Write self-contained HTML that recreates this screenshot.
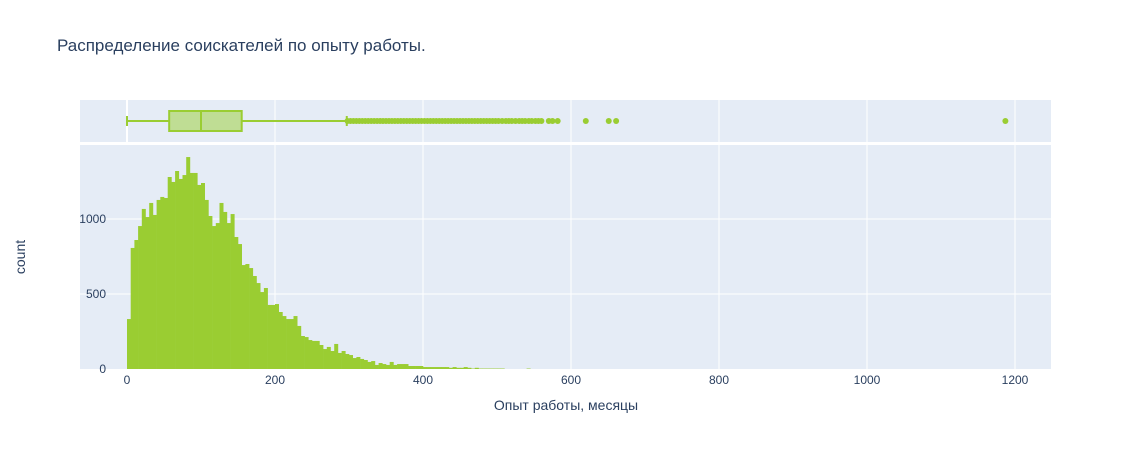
<!DOCTYPE html>
<html><head><meta charset="utf-8">
<style>
html,body{margin:0;padding:0;background:#fff;}
svg text{font-family:"Liberation Sans","DejaVu Sans",sans-serif;fill:#2a3f5f;}
</style></head>
<body>
<svg id="chart" width="1132" height="450" xmlns="http://www.w3.org/2000/svg">
<rect width="1132" height="450" fill="#fff"/>
<text x="57" y="51" font-size="17">Распределение соискателей по опыту работы.</text>
<rect x="80" y="100" width="971" height="42" fill="#e5ecf6"/>
<rect x="80" y="145" width="971" height="224" fill="#e5ecf6"/>
<g id="grid"></g>
<g id="bars"></g>
<g id="box"></g>
<g id="ticks"></g>
<text transform="translate(25,257) rotate(-90)" text-anchor="middle" font-size="14">count</text>
<text x="566" y="410" text-anchor="middle" font-size="14">Опыт работы, месяцы</text>
</svg>
<script>
const binWidth = 5;
const counts = [333,807,860,953,1067,1013,1107,1027,1127,1147,1140,1280,1247,1320,1267,1293,1413,1307,1307,1227,1240,1127,1020,953,973,1107,1047,973,1033,880,833,693,700,673,620,573,513,540,427,427,433,380,353,333,333,353,287,220,213,193,187,187,160,133,147,120,167,107,120,100,93,73,80,67,60,47,53,27,40,33,27,47,27,33,33,33,20,20,20,20,13,13,13,13,13,13,13,8,13,8,8,13,8,3,8,3,3,3,3,3,3,3,0,0,0,0,0,0,3];
const boxStats = [0,57,100,155,297];
const outliers = [298,302,306,310,314,318,322,326,330,334,338,342,346,350,354,358,362,366,370,374,378,382,386,390,394,398,402,406,410,414,418,422,426,430,434,438,442,446,450,454,458,462,466,470,474,478,482,486,490,494,498,502,507,512,516,520,525,530,534,538,543,547,552,556,560,570,575,582,620,651,661,1187];
const xTicks = [0,200,400,600,800,1000,1200];
const yTicks = [0,500,1000];

const NS="http://www.w3.org/2000/svg";
const xs = v => 127 + v*0.74;
const ys = c => 369 - c*0.15;
function mk(tag, attrs, parent){const e=document.createElementNS(NS,tag);for(const k in attrs)e.setAttribute(k,attrs[k]);parent.appendChild(e);return e;}
const grid=document.getElementById('grid'), bars=document.getElementById('bars'), box=document.getElementById('box'), ticks=document.getElementById('ticks');

xTicks.forEach(t=>{
  const x=xs(t);
  if(t!==0){
    const g1=mk('line',{x1:x,x2:x,y1:100,y2:142,stroke:'#fff','stroke-width':1},grid);
    
    
    const g2=mk('line',{x1:x,x2:x,y1:145,y2:369,stroke:'#fff','stroke-width':1},grid);
    
    
  } else {
    const z=mk('line',{x1:x,x2:x,y1:100,y2:142,stroke:'#fff','stroke-width':2},grid);
    
    
  }
  const lb=mk('text',{x:x,y:384,'text-anchor':'middle','font-size':12},ticks);
  lb.textContent=t;
  
  
});
yTicks.forEach(t=>{
  const y=ys(t);
  if(t!==0){
    const g=mk('line',{x1:80,x2:1051,y1:y,y2:y,stroke:'#fff','stroke-width':1},grid);
    
    
  }
  const lb=mk('text',{x:106,y:y+4,'text-anchor':'end','font-size':12},ticks);
  lb.textContent=t;
  
  
});

counts.forEach((c,i)=>{
  if(c<=0) return;
  const x0=xs(i*binWidth), x1=xs((i+1)*binWidth);
  const r=mk('rect',{x:x0,y:ys(c),width:x1-x0+0.3,height:369-ys(c),fill:'#9acd32'},bars);
  
  
});

const cy=121;
const wl=mk('line',{x1:xs(boxStats[0]),x2:xs(boxStats[1]),y1:cy,y2:cy,stroke:'#9acd32','stroke-width':2},box);


const wu=mk('line',{x1:xs(boxStats[3]),x2:xs(boxStats[4]),y1:cy,y2:cy,stroke:'#9acd32','stroke-width':2},box);


[boxStats[0],boxStats[4]].forEach(v=>{
  const c=mk('line',{x1:xs(v),x2:xs(v),y1:cy-5,y2:cy+5,stroke:'#9acd32','stroke-width':2},box);
  
  
});
const br=mk('rect',{x:xs(boxStats[1]),y:111,width:xs(boxStats[3])-xs(boxStats[1]),height:20,fill:'rgba(154,205,50,0.5)',stroke:'#9acd32','stroke-width':2},box);


const md=mk('line',{x1:xs(boxStats[2]),x2:xs(boxStats[2]),y1:111,y2:131,stroke:'#9acd32','stroke-width':2},box);


outliers.forEach(v=>{
  const p=mk('circle',{cx:xs(v),cy:cy,r:3,fill:'#9acd32'},box);
  
  
});
</script>
</body></html>
